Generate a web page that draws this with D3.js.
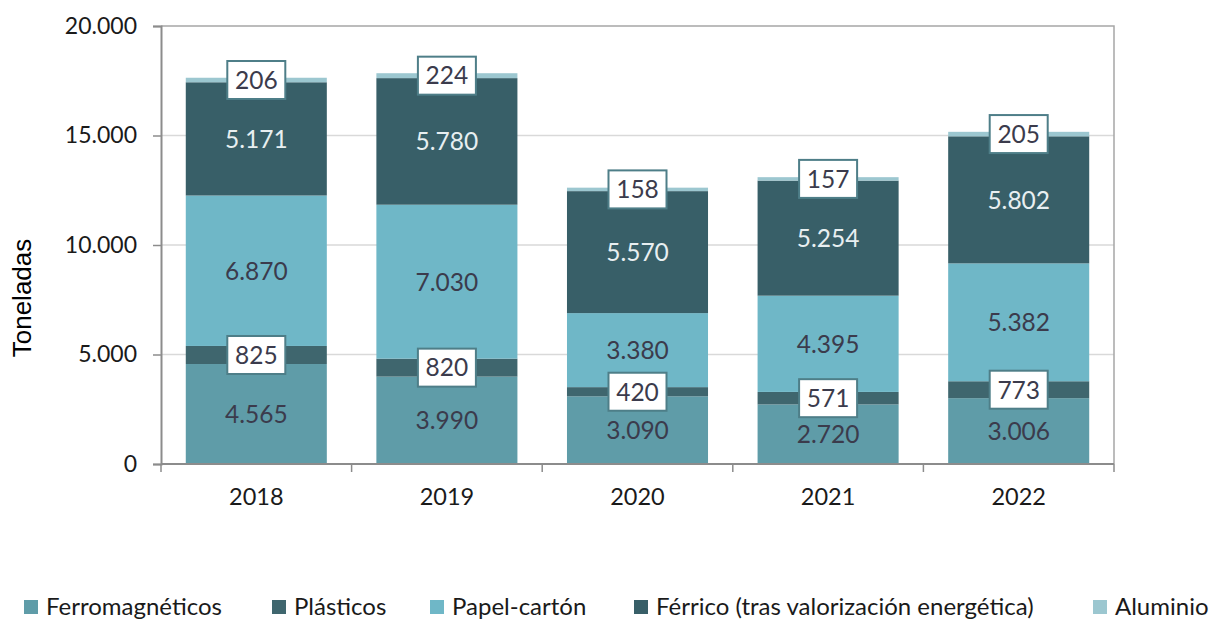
<!DOCTYPE html>
<html>
<head>
<meta charset="utf-8">
<script src="https://cdn.jsdelivr.net/npm/d3@7"></script>
<style>
  html, body { margin: 0; padding: 0; background: #fff; }
  svg { display: block; }
</style>
</head>
<body>
<svg id="chart" width="1209" height="620"></svg>
<script>
// Recovered materials by year (tonnes)
const years = ["2018", "2019", "2020", "2021", "2022"];
const seriesNames = ["Ferromagnéticos", "Plásticos", "Papel-cartón", "Férrico (tras valorización energética)", "Aluminio"];
const ferromagneticos = [4565, 3990, 3090, 2720, 3006];
const plasticos = [825, 820, 420, 571, 773];
const papelCarton = [6870, 7030, 3380, 4395, 5382];
const ferrico = [5171, 5780, 5570, 5254, 5802];
const aluminio = [206, 224, 158, 157, 205];
const yTicks = [0, 5000, 10000, 15000, 20000];

const seriesValues = [ferromagneticos, plasticos, papelCarton, ferrico, aluminio];
const colors = ["#5f9ca8", "#3f666e", "#6fb7c7", "#385f68", "#9cc7d0"];
// how each series' value label is drawn
const labelStyle = ["plain-dark", "box", "plain-dark", "plain-light", "box"];

const fmt = v => d3.format(",")(v).replace(/,/g, ".");

const svg = d3.select("#chart");
const margin = { left: 161, right: 95, top: 26, bottom: 156 };
const W = 1209, H = 620;
const x0 = margin.left, x1 = W - margin.right;
const yTop = margin.top, yBot = H - margin.bottom;

const x = d3.scaleBand().domain(years).range([x0, x1]).paddingInner(0.26).paddingOuter(0.13);
const y = d3.scaleLinear().domain([0, 20000]).range([yBot, yTop]);

const rows = years.map((yr, i) => {
  const r = { year: yr };
  seriesNames.forEach((s, k) => r[s] = seriesValues[k][i]);
  return r;
});
const stacked = d3.stack().keys(seriesNames)(rows);

const calibri = "Lato, 'Open Sans', sans-serif";

// gridlines
svg.append("g").selectAll("line").data(yTicks.filter(t => t > 0 && t < 20000)).join("line")
  .attr("x1", x0).attr("x2", x1)
  .attr("y1", d => y(d)).attr("y2", d => y(d))
  .attr("stroke", "#d9d9d9").attr("stroke-width", 1.3);

// plot frame (top and right)
svg.append("path")
  .attr("d", `M${x0},${yTop}H${x1}V${yBot}`)
  .attr("fill", "none").attr("stroke", "#a6a6a6").attr("stroke-width", 1.5);

// bars
const layers = svg.append("g").selectAll("g").data(stacked).join("g")
  .attr("fill", (d, i) => colors[i]);
layers.selectAll("rect").data(d => d).join("rect")
  .attr("x", d => x(d.data.year))
  .attr("width", x.bandwidth())
  .attr("y", d => y(d[1]))
  .attr("height", d => y(d[0]) - y(d[1]));

// y axis
const yAxis = d3.axisLeft(y).tickValues(yTicks).tickFormat(fmt).tickSize(8).tickPadding(16);
const gy = svg.append("g").attr("transform", `translate(${x0},0)`).call(yAxis);
gy.select(".domain").attr("stroke", "#8c8c8c").attr("stroke-width", 2);
gy.selectAll(".tick line").attr("stroke", "#8c8c8c").attr("stroke-width", 1.5);
gy.selectAll(".tick text").attr("font-family", calibri).attr("font-size", 23).attr("fill", "#1a1a1a");

// x axis with ticks at category boundaries
const gx = svg.append("g").attr("transform", `translate(0,${yBot})`);
gx.append("line").attr("x1", x0).attr("x2", x1).attr("y1", 0).attr("y2", 0)
  .attr("stroke", "#8c8c8c").attr("stroke-width", 2);
const step = (x1 - x0) / years.length;
gx.selectAll(".bt").data(d3.range(years.length + 1)).join("line")
  .attr("x1", i => x0 + i * step).attr("x2", i => x0 + i * step)
  .attr("y1", 0).attr("y2", 8)
  .attr("stroke", "#8c8c8c").attr("stroke-width", 1.5);
gx.selectAll("text").data(years).join("text")
  .attr("x", d => x(d) + x.bandwidth() / 2)
  .attr("y", 33)
  .attr("dy", "0.35em")
  .attr("text-anchor", "middle")
  .attr("font-family", calibri).attr("font-size", 23.5).attr("fill", "#1a1a1a")
  .text(d => d);

// y axis title
svg.append("text")
  .attr("transform", `translate(31,298) rotate(-90)`)
  .attr("text-anchor", "middle")
  .attr("font-family", "'Liberation Sans', Arial, sans-serif")
  .attr("font-size", 26).attr("fill", "#000")
  .text("Toneladas");

// value labels
const labels = svg.append("g");
stacked.forEach((layer, k) => {
  layer.forEach(d => {
    const cx = x(d.data.year) + x.bandwidth() / 2;
    const cy = (y(d[0]) + y(d[1])) / 2;
    const txt = fmt(seriesValues[k][years.indexOf(d.data.year)]);
    const style = labelStyle[k];
    const g = labels.append("g").attr("transform", `translate(${cx},${cy})`);
    if (style === "box") {
      g.append("rect")
        .attr("x", -29).attr("y", -19).attr("width", 58).attr("height", 38)
        .attr("fill", "#fff").attr("stroke", "#4e7e88").attr("stroke-width", 2);
    }
    g.append("text")
      .attr("text-anchor", "middle").attr("dy", "0.36em")
      .attr("font-family", calibri).attr("font-size", 24.5)
      .attr("fill", style === "plain-light" ? "#e8eff1" : "#3b3b4c")
      .text(txt);
  });
});

// legend
const legendX = [24, 272, 430, 634, 1093];
const legend = svg.append("g").attr("transform", `translate(0,607)`);
seriesNames.forEach((s, i) => {
  const g = legend.append("g").attr("transform", `translate(${legendX[i]},0)`);
  g.append("rect").attr("x", 0).attr("y", -7).attr("width", 14).attr("height", 14).attr("fill", colors[i]);
  g.append("text").attr("x", 22).attr("dy", "0.35em")
    .attr("font-family", calibri).attr("font-size", 24).attr("fill", "#1a1a1a")
    .text(s);
});
</script>
</body>
</html>
